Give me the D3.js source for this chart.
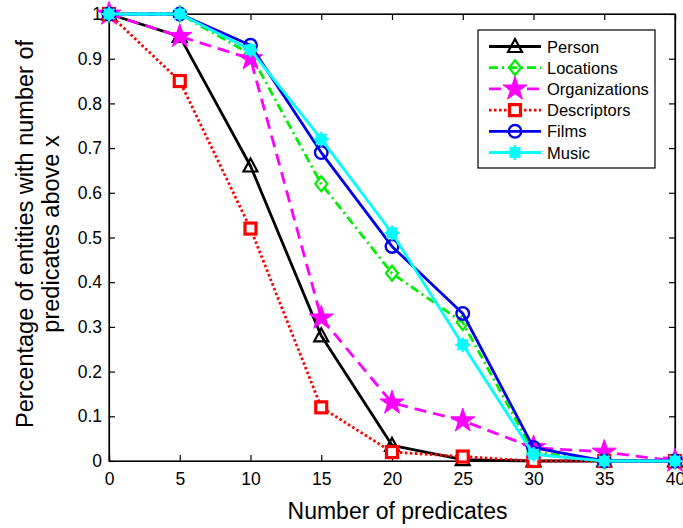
<!DOCTYPE html>
<html><head><meta charset="utf-8">
<script src="https://cdn.jsdelivr.net/npm/d3@7"></script>
<style>body{margin:0;background:#fff}svg{display:block;font-family:"Liberation Sans",Arial,sans-serif}</style>
</head><body>
<svg id="c" width="683" height="528"></svg>
<script>
const xValues = [0,5,10,15,20,25,30,35,40];
const person = [1,0.95,0.66,0.28,0.035,0.003,0,0,0];
const locations = [1,1,0.91,0.62,0.42,0.31,0.02,0,0];
const organizations = [1,0.95,0.90,0.32,0.13,0.09,0.03,0.02,0];
const descriptors = [1,0.85,0.52,0.12,0.02,0.01,0,0,0];
const films = [1,1,0.93,0.69,0.48,0.33,0.03,0,0];
const music = [1,1,0.92,0.72,0.51,0.26,0.015,0,0];
const seriesNames = ["Person","Locations","Organizations","Descriptors","Films","Music"];
const xTicks = [0,5,10,15,20,25,30,35,40];
const yTicks = [0,0.1,0.2,0.3,0.4,0.5,0.6,0.7,0.8,0.9,1];

const styles = [
  {color:"#000000", dash:null, marker:"triangle"},
  {color:"#00ee00", dash:"9,4,2,4", marker:"diamond"},
  {color:"#ff00ff", dash:"12,7", marker:"star"},
  {color:"#ff0000", dash:"2.5,2.5", marker:"square"},
  {color:"#0000ee", dash:null, marker:"circle"},
  {color:"#00ffff", dash:null, marker:"asterisk"}
];
const data = [person,locations,organizations,descriptors,films,music];

const svg = d3.select("#c");
const L=109, R=675, T=14, B=461;
const x = d3.scaleLinear().domain([0,40]).range([L,R]);
const y = d3.scaleLinear().domain([0,1]).range([B,T]);

const g = svg.append("g");
g.append("rect").attr("x",L).attr("y",T).attr("width",R-L).attr("height",B-T)
  .attr("fill","none").attr("stroke","#000").attr("stroke-width",1.2);

const xb = d3.axisBottom(x).tickValues(xTicks).tickSize(-6).tickPadding(12).tickFormat(d3.format("d"));
const yl = d3.axisLeft(y).tickValues(yTicks).tickSize(-6).tickPadding(7).tickFormat(d=>d===0||d===1?String(d):d3.format(".1f")(d));
const xt = d3.axisTop(x).tickValues(xTicks).tickSize(-6).tickFormat("");
const yr = d3.axisRight(y).tickValues(yTicks).tickSize(-6).tickFormat("");
function style(sel){sel.select(".domain").attr("stroke","#000").attr("stroke-width",1.2);
  sel.selectAll(".tick line").attr("stroke","#000").attr("stroke-width",1.2);
  sel.selectAll(".tick text").attr("font-size",17.5).attr("fill","#000").attr("font-family","Liberation Sans, Arial, sans-serif");}
g.append("g").attr("transform",`translate(0,${B})`).call(xb).call(style);
g.append("g").attr("transform",`translate(${L},0)`).call(yl).call(style);
g.append("g").attr("transform",`translate(0,${T})`).call(xt).call(style);
g.append("g").attr("transform",`translate(${R},0)`).call(yr).call(style);

function drawMarker(sel, type, color, cx, cy){
  if(type==="triangle"){
    sel.append("path").attr("d",`M${cx},${cy-7.5}L${cx+7},${cy+5.5}L${cx-7},${cy+5.5}Z`)
      .attr("fill","none").attr("stroke",color).attr("stroke-width",2.2);
  } else if(type==="diamond"){
    sel.append("path").attr("d",`M${cx},${cy-7.5}L${cx+6},${cy}L${cx},${cy+7.5}L${cx-6},${cy}Z`)
      .attr("fill","none").attr("stroke",color).attr("stroke-width",2.2);
  } else if(type==="star"){
    sel.append("path").attr("d",d3.symbol().type(d3.symbolStar).size(180)()).attr("transform",`translate(${cx},${cy})`)
      .attr("fill",color).attr("stroke",color).attr("stroke-width",1);
  } else if(type==="square"){
    sel.append("rect").attr("x",cx-5.5).attr("y",cy-5.5).attr("width",11).attr("height",11)
      .attr("fill","#fff").attr("stroke",color).attr("stroke-width",3.2);
  } else if(type==="circle"){
    sel.append("circle").attr("cx",cx).attr("cy",cy).attr("r",6.3)
      .attr("fill","none").attr("stroke",color).attr("stroke-width",2.4);
  } else if(type==="asterisk"){
    sel.append("circle").attr("cx",cx).attr("cy",cy).attr("r",6).attr("fill",color);
    for(let a=0;a<4;a++){const ang=a*Math.PI/4;
      sel.append("line").attr("x1",cx-7.5*Math.cos(ang)).attr("y1",cy-7.5*Math.sin(ang))
        .attr("x2",cx+7.5*Math.cos(ang)).attr("y2",cy+7.5*Math.sin(ang)).attr("stroke",color).attr("stroke-width",2);}
  }
}

const line = d3.line().x((d,i)=>x(xValues[i])).y(d=>y(d));
data.forEach((vals,k)=>{
  const s=styles[k];
  const sg=g.append("g");
  sg.append("path").datum(vals).attr("d",line).attr("fill","none").attr("stroke",s.color)
    .attr("stroke-width",2.8).attr("stroke-dasharray",s.dash).attr("stroke-linejoin","round");
  vals.forEach((v,i)=>drawMarker(sg,s.marker,s.color,x(xValues[i]),y(v)));
});

const lg = g.append("g");
lg.append("rect").attr("x",478).attr("y",30).attr("width",177).attr("height",138)
  .attr("fill","#fff").attr("stroke","#000").attr("stroke-width",1.2);
seriesNames.forEach((n,k)=>{
  const s=styles[k]; const yy=46.5+k*21.2;
  lg.append("line").attr("x1",489).attr("x2",541).attr("y1",yy).attr("y2",yy)
    .attr("stroke",s.color).attr("stroke-width",2.8).attr("stroke-dasharray",s.dash);
  drawMarker(lg,s.marker,s.color,515,yy);
  lg.append("text").attr("x",547).attr("y",yy+6).attr("font-size",16.5).attr("fill","#000").text(n);
});

svg.append("text").attr("x",397.5).attr("y",519).attr("text-anchor","middle").attr("font-size",23).text("Number of predicates");
const yl1 = svg.append("text").attr("transform",`translate(33,234) rotate(-90)`).attr("text-anchor","middle").attr("font-size",23.5);
yl1.append("tspan").attr("x",0).attr("dy",0).text("Percentage of entities with number of");
yl1.append("tspan").attr("x",0).attr("dy",25.5).text("predicates above x");
</script>
</body></html>
